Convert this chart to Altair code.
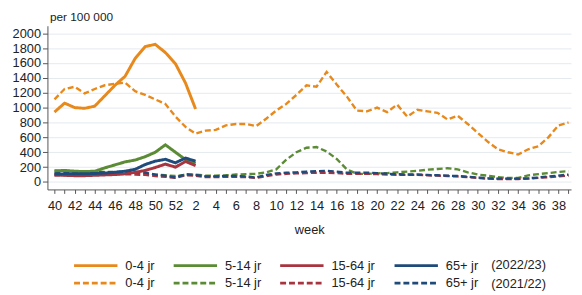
import altair as alt
import pandas as pd

# Week sequence (season week 40 .. week 39)
weeks = [40, 41, 42, 43, 44, 45, 46, 47, 48, 49, 50, 51, 52,
         1, 2, 3, 4, 5, 6, 7, 8, 9, 10, 11, 12, 13, 14, 15, 16, 17, 18, 19, 20,
         21, 22, 23, 24, 25, 26, 27, 28, 29, 30, 31, 32, 33, 34, 35, 36, 37, 38, 39]
tick_labels = [str(w) if w % 2 == 0 else "" for w in weeks]
y_ticks = [0, 200, 400, 600, 800, 1000, 1200, 1400, 1600, 1800, 2000]

# 2022/23 (solid), weeks 40..2
cur_0_4 = [940, 1060, 1000, 990, 1020, 1160, 1300, 1420, 1660, 1820, 1850, 1740, 1590, 1330, 980]
cur_5_14 = [150, 155, 145, 140, 145, 190, 230, 270, 295, 340, 400, 500, 400, 300, 250]
cur_15_64 = [95, 90, 85, 85, 90, 95, 100, 110, 130, 155, 195, 240, 200, 275, 220]
cur_65 = [105, 110, 110, 110, 115, 120, 130, 145, 170, 235, 280, 305, 258, 322, 280]

# 2021/22 (dashed), weeks 40..39
prev_0_4 = [1110, 1250, 1280, 1190, 1250, 1300, 1320, 1335, 1220, 1170, 1110, 1050, 880,
            740, 650, 690, 700, 760, 780, 780, 750, 850, 960, 1050, 1170, 1300, 1280, 1480,
            1310, 1150, 960, 950, 1000, 940, 1040, 880, 970, 950, 930, 840, 890, 780, 660,
            540, 440, 400, 370, 440, 480, 600, 760, 800]
prev_5_14 = [150, 150, 145, 140, 140, 135, 130, 125, 120, 110, 100, 90, 80,
             95, 100, 85, 85, 90, 100, 105, 110, 130, 170, 300, 400, 460, 470, 410,
             310, 170, 110, 110, 115, 120, 130, 140, 150, 165, 175, 185, 170, 130, 100,
             85, 65, 55, 55, 90, 105, 120, 135, 145]
prev_15_64 = [90, 90, 95, 95, 100, 100, 105, 105, 100, 95, 80, 70, 55,
              90, 85, 65, 65, 70, 70, 65, 55, 80, 100, 110, 115, 120, 125, 125,
              120, 110, 110, 110, 105, 100, 95, 95, 95, 90, 85, 80, 75, 65, 55,
              45, 40, 40, 40, 45, 55, 65, 75, 85]
prev_65 = [120, 125, 125, 125, 130, 130, 135, 140, 135, 125, 100, 85, 60,
           105, 95, 75, 75, 80, 80, 75, 60, 95, 115, 125, 130, 140, 145, 150,
           140, 125, 125, 125, 120, 110, 105, 100, 100, 95, 90, 85, 80, 70, 60,
           50, 45, 45, 45, 50, 60, 75, 85, 100]

series_cur = ["0-4 jr (2022/23)", "5-14 jr (2022/23)", "15-64 jr (2022/23)", "65+ jr (2022/23)"]
series_prev = ["0-4 jr (2021/22)", "5-14 jr (2021/22)", "15-64 jr (2021/22)", "65+ jr (2021/22)"]
colors = ["#E8891C", "#5B8B35", "#A8343F", "#1F4B7A"]

rows = []
for name, vals in zip(series_cur, [cur_0_4, cur_5_14, cur_15_64, cur_65]):
    for i, v in enumerate(vals):
        rows.append({"i": i, "value": v, "series": name, "kind": "cur"})
for name, vals in zip(series_prev, [prev_0_4, prev_5_14, prev_15_64, prev_65]):
    for i, v in enumerate(vals):
        rows.append({"i": i, "value": v, "series": name, "kind": "prev"})
df = pd.DataFrame(rows)

domain = series_cur + series_prev
color_scale = alt.Scale(domain=domain, range=colors + colors)
dash_scale = alt.Scale(domain=domain, range=[[1, 0]] * 4 + [[6, 3]] * 4)

label_js = "[" + ",".join("'" + t + "'" for t in tick_labels) + "]"

x_enc = alt.X(
    "i:Q",
    scale=alt.Scale(domain=[-0.7, 51.25], nice=False, zero=False),
    axis=alt.Axis(
        values=list(range(len(weeks))),
        labelExpr=label_js + "[datum.value]",
        title="week",
        grid=False,
        tickSize=4,
        labelPadding=6,
        labelFontSize=13,
        titleFontSize=13,
        titleFontWeight="normal",
        titlePadding=12,
        labelFlush=False,
        labelOverlap=False,
    ),
)
y_enc = alt.Y(
    "value:Q",
    scale=alt.Scale(domain=[-100, 2100], nice=False, zero=False),
    axis=alt.Axis(
        values=y_ticks,
        format="d",
        title="per 100 000",
        titleAngle=0,
        titleAlign="left",
        titleBaseline="middle",
        titleX=2,
        titleY=-9,
        titleFontSize=12,
        titleFontWeight="normal",
        tickSize=5,
        labelPadding=2,
        labelFontSize=13,
        grid=True,
    ),
)

legend = alt.Legend(
    orient="none",
    direction="horizontal",
    legendX=27,
    legendY=234.5,
    columns=4,
    title=None,
    symbolType="M-1.214,0H5.071",
    symbolSize=196,
    symbolStrokeWidth=3,
    labelFontSize=13,
    labelOffset=35,
    columnPadding=13,
    rowPadding=2,
    padding=0,
    labelExpr="split(datum.label, ' (')[0]",
)

base = alt.Chart(df).encode(
    x=x_enc,
    y=y_enc,
    color=alt.Color("series:N", scale=color_scale, legend=legend),
    strokeDash=alt.StrokeDash("series:N", scale=dash_scale, legend=legend),
    detail="series:N",
)

prev_lines = base.transform_filter(alt.datum.kind == "prev").mark_line(strokeWidth=2.4)
cur_lines = base.transform_filter(alt.datum.kind == "cur").mark_line(strokeWidth=3)

yr1 = alt.Chart(pd.DataFrame({"t": ["(2022/23)"]})).mark_text(
    align="left", baseline="middle", fontSize=13, color="#222"
).encode(x=alt.value(450), y=alt.value(243), text="t:N")
yr2 = alt.Chart(pd.DataFrame({"t": ["(2021/22)"]})).mark_text(
    align="left", baseline="middle", fontSize=13, color="#222"
).encode(x=alt.value(450), y=alt.value(262), text="t:N")

chart = alt.layer(prev_lines, cur_lines, yr1, yr2).properties(
    width=531,
    height=166,
    autosize=alt.AutoSizeParams(type="none"),
    padding={"left": 40, "top": 16, "right": 3, "bottom": 101},
).configure_view(stroke=None).configure_axis(
    labelFont="Liberation Sans",
    titleFont="Liberation Sans",
    labelColor="#222",
    titleColor="#222",
    domainColor="#555",
    tickColor="#555",
    gridColor="#E4EAEE",
).configure_legend(
    labelFont="Liberation Sans",
    labelColor="#222",
).configure_text(font="Liberation Sans")

chart.save("out.html", embed_options={"renderer": "svg", "actions": False})
